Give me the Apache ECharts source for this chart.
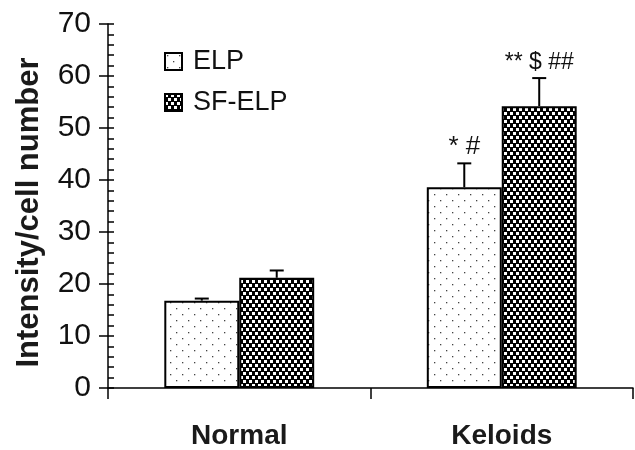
<!DOCTYPE html>
<html>
<head>
<meta charset="utf-8">
<script src="https://cdn.jsdelivr.net/npm/echarts@6/dist/echarts.min.js"></script>
<style>
  html, body { margin: 0; padding: 0; background: #fff; }
  #chart { width: 635px; height: 450px; }
</style>
</head>
<body>
<div id="chart"></div>
<script>
// values
const categories = ["Normal", "Keloids"];
const elpValues = [16.8, 38.6];
const sfElpValues = [21.2, 54.2];
const elpErrors = [0.4, 4.6];
const sfElpErrors = [1.4, 5.4];
const elpMarks = ["", "* #"];
const sfElpMarks = ["", "** $ ##"];
const yTicks = [0, 10, 20, 30, 40, 50, 60, 70];

const FONT = "'Liberation Sans', Arial, Helvetica, sans-serif";
const BAR_CATEGORY_GAP = 0.429;

// fill patterns: sparse dots for ELP, dense black/white checks for SF-ELP
function dotPattern() {
  const c = document.createElement("canvas");
  c.width = 12;
  c.height = 12;
  const ctx = c.getContext("2d");
  ctx.fillStyle = "#fff";
  ctx.fillRect(0, 0, 12, 12);
  ctx.fillStyle = "#444";
  ctx.fillRect(2, 2, 1.3, 1.3);
  ctx.fillRect(8, 8, 1.3, 1.3);
  return c;
}

function checkPattern() {
  const c = document.createElement("canvas");
  c.width = 6;
  c.height = 8;
  const ctx = c.getContext("2d");
  ctx.fillStyle = "#000";
  ctx.fillRect(0, 0, 6, 8);
  ctx.fillStyle = "#fff";
  ctx.fillRect(0, 0, 3, 3);
  ctx.fillRect(3, 4, 3, 3);
  return c;
}

// error bars + significance marks, placed on the same bar slots
function errorSeries(values, errors, marks, side, markSize) {
  return {
    type: "custom",
    silent: true,
    z: 5,
    data: values.map((v, i) => [i, v, errors[i]]),
    renderItem: function (params, api) {
      const idx = api.value(0);
      const val = api.value(1);
      const err = api.value(2);
      const mark = marks[idx];
      const bandW = api.size([1, 0])[0];
      const barW = (bandW * (1 - BAR_CATEGORY_GAP)) / 2;
      const base = api.coord([idx, val]);
      const top = api.coord([idx, val + err]);
      const x = base[0] + side * barW / 2;
      const children = [
        {
          type: "line",
          shape: { x1: x, y1: base[1], x2: x, y2: top[1] },
          style: { stroke: "#000", lineWidth: 2 },
        },
        {
          type: "line",
          shape: { x1: x - 7, y1: top[1], x2: x + 7, y2: top[1] },
          style: { stroke: "#000", lineWidth: 2 },
        },
      ];
      if (mark) {
        children.push({
          type: "text",
          style: {
            text: mark,
            x: x,
            y: top[1] - 4,
            align: "center",
            verticalAlign: "bottom",
            fontSize: markSize,
            fontFamily: FONT,
            fill: "#111",
          },
        });
      }
      return { type: "group", children: children };
    },
  };
}

const chart = echarts.init(document.getElementById("chart"), null, { renderer: "canvas" });

const option = {
  backgroundColor: "#fff",
  animation: false,
  textStyle: { fontFamily: FONT },
  grid: { left: 108, right: 2, top: 24, bottom: 62 },
  legend: {
    orient: "vertical",
    left: 159,
    top: 43,
    itemWidth: 17,
    itemHeight: 17,
    itemGap: 14,
    icon: "rect",
    data: ["ELP", "SF-ELP"],
    textStyle: {
      fontSize: 27,
      color: "#111",
      fontFamily: FONT,
      padding: [0, 0, 0, 6],
    },
  },
  xAxis: {
    type: "category",
    data: categories,
    boundaryGap: true,
    axisLine: { lineStyle: { color: "#000", width: 1.5 } },
    axisTick: { show: true, length: 11, lineStyle: { color: "#000", width: 1.5 } },
    axisLabel: {
      fontSize: 28,
      fontWeight: "bold",
      color: "#1a1a1a",
      margin: 34,
      fontFamily: FONT,
    },
    splitLine: { show: false },
  },
  yAxis: [
    {
      type: "value",
      min: 0,
      max: 70,
      interval: 10,
      name: "Intensity/cell number",
      nameLocation: "middle",
      nameGap: 63,
      nameTextStyle: {
        fontSize: 31,
        fontWeight: "bold",
        color: "#1a1a1a",
        fontFamily: FONT,
        padding: [0, 13, 0, 0],
      },
      axisLine: { show: true, lineStyle: { color: "#000", width: 1.5 } },
      axisTick: { show: true, length: 9, lineStyle: { color: "#000", width: 1.5 } },
      axisLabel: {
        fontSize: 30,
        color: "#111",
        margin: 17,
        fontFamily: FONT,
        formatter: (v) => (yTicks.includes(v) ? String(v) : ""),
      },
      splitLine: { show: false },
    },
    {
      // inner minor ticks every 2 units
      type: "value",
      min: 0,
      max: 70,
      interval: 2,
      position: "left",
      axisLine: { show: false },
      axisTick: { show: true, inside: true, length: 6, lineStyle: { color: "#000", width: 1.5 } },
      axisLabel: { show: false },
      splitLine: { show: false },
    },
  ],
  series: [
    {
      name: "ELP",
      type: "bar",
      data: elpValues,
      barGap: "0%",
      barCategoryGap: BAR_CATEGORY_GAP * 100 + "%",
      itemStyle: {
        color: { image: dotPattern(), repeat: "repeat" },
        borderColor: "#000",
        borderWidth: 2,
      },
    },
    {
      name: "SF-ELP",
      type: "bar",
      data: sfElpValues,
      barGap: "0%",
      barCategoryGap: BAR_CATEGORY_GAP * 100 + "%",
      itemStyle: {
        color: { image: checkPattern(), repeat: "repeat" },
        borderColor: "#000",
        borderWidth: 2,
      },
    },
    errorSeries(elpValues, elpErrors, elpMarks, -1, 26),
    errorSeries(sfElpValues, sfElpErrors, sfElpMarks, 1, 23),
  ],
};

chart.setOption(option);
</script>
</body>
</html>
